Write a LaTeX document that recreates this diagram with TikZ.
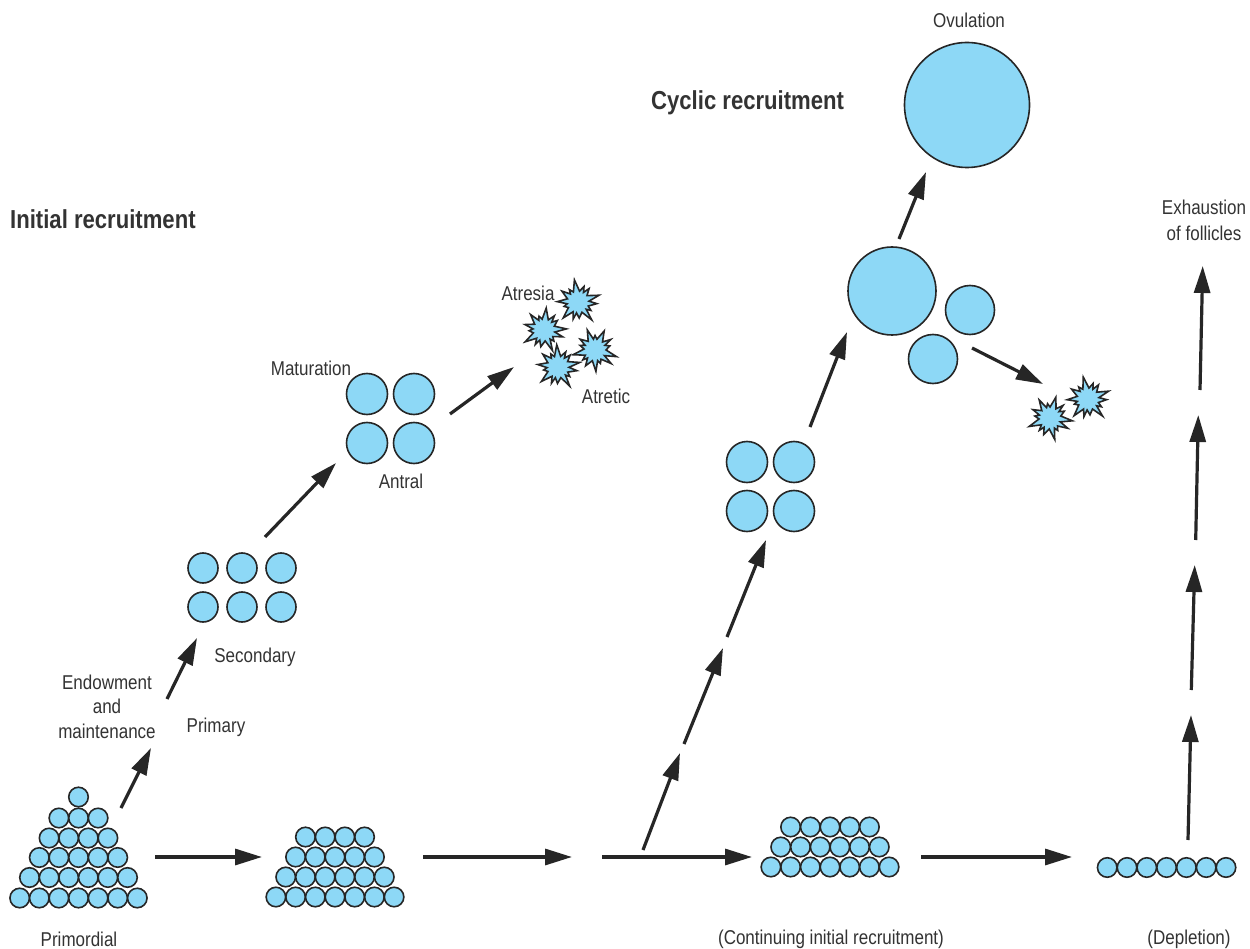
\documentclass[tikz,border=0pt]{standalone}
\usepackage{fontspec}
\setmainfont{Liberation Sans}[FakeStretch=0.85]
\usetikzlibrary{arrows.meta}
\definecolor{folc}{RGB}{141,216,246}
\definecolor{ink}{RGB}{38,38,38}
\definecolor{txt}{RGB}{51,51,51}
\tikzset{
  follicle/.style={circle, draw=ink, fill=folc, line width=1.6pt, inner sep=0pt, minimum size=#1},
  follicle/.default=19.5pt,
  arr/.style={draw=ink, line width=3.2pt, -{Triangle[length=27pt,width=16pt]}},
  lbl/.style={text=txt, font=\fontsize{20}{24}\selectfont, inner sep=0pt},
  head/.style={text=txt, font=\fontsize{26}{30}\selectfont\bfseries, inner sep=0pt},
  burst/.style={draw=ink, fill=folc, line width=1.6pt, line join=miter},
}
\newcommand\folrow[5]{%
  \foreach \i in {1,...,#3}{\node[follicle] (#4\i) at ({#1+(\i-(#3+1)/2)*#5},#2) {};}}
\newcommand\burstat[4]{%
  \coordinate (#1) at (#2,#3);
  \draw[burst, shift={(#1)}] plot[samples at={0,...,27}, variable=\k]
    ({(11+(1-mod(\k,2))*(7.5+4*sin(\k*113+#4)))*cos(\k*360/28+#4+4*sin(\k*71))},
     {(11+(1-mod(\k,2))*(7.5+4*sin(\k*113+#4)))*sin(\k*360/28+#4+4*sin(\k*71))}) -- cycle;}
\begin{document}
\begin{tikzpicture}[x=1pt,y=-1pt]
\useasboundingbox (0,0) rectangle (1250,949);
\fill[white] (0,0) rectangle (1250,949);

% ---------- primordial pyramid
\folrow{78.5}{898}{7}{pa}{19.6}
\folrow{78.5}{877.5}{6}{pb}{19.6}
\folrow{78.5}{857.5}{5}{pc}{19.6}
\folrow{78.5}{838}{4}{pd}{19.6}
\folrow{78.5}{818}{3}{pe}{19.6}
\folrow{78.5}{797}{1}{pf}{19.6}

% ---------- second pile
\folrow{335}{897}{7}{qa}{19.7}
\folrow{335}{877}{6}{qb}{19.7}
\folrow{335}{857}{5}{qc}{19.7}
\folrow{335}{837}{4}{qd}{19.7}

% ---------- third pile
\folrow{830}{867}{7}{ra}{19.7}
\folrow{830}{847}{6}{rb}{19.7}
\folrow{830}{827}{5}{rc}{19.7}

% ---------- depletion row
\folrow{1166.6}{867.5}{7}{sa}{19.8}

% ---------- secondary
\foreach \x [count=\j] in {203,242,281}{
  \node[follicle=30pt] (sec1\j) at (\x,568) {};
  \node[follicle=30pt] (sec2\j) at (\x,607) {};}

% ---------- antral
\node[follicle=41pt] (an1) at (367,394) {};
\node[follicle=41pt] (an2) at (414,394) {};
\node[follicle=41pt] (an3) at (367,443) {};
\node[follicle=41pt] (an4) at (414,443) {};

% ---------- cyclic four
\node[follicle=41pt] (cy1) at (747,462) {};
\node[follicle=41pt] (cy2) at (794,462) {};
\node[follicle=41pt] (cy3) at (747,511) {};
\node[follicle=41pt] (cy4) at (794,511) {};

% ---------- dominant & others
\node[follicle=88pt] (dom) at (892,291) {};
\node[follicle=49pt] (sm1) at (970,310) {};
\node[follicle=49pt] (sm2) at (933,359) {};
\node[follicle=125pt] (ovu) at (967,105) {};

% ---------- atretic bursts
\burstat{b1}{578}{302}{5}
\burstat{b2}{544}{330}{20}
\burstat{b3}{595}{350}{40}
\burstat{b4}{558}{367}{11}
\burstat{b5}{1050}{418}{30}
\burstat{b6}{1088}{399}{2}

% ---------- arrow coordinates
\coordinate (e1s) at (121,808);   \coordinate (e1e) at (151,748);
\coordinate (e2s) at (167,699);   \coordinate (e2e) at (197,638);
\coordinate (e3s) at (265,537);   \coordinate (e3e) at (336,463);
\coordinate (e4s) at (450,414);   \coordinate (e4e) at (514,367);
\coordinate (h1s) at (155,857);   \coordinate (h1e) at (262,857);
\coordinate (h2s) at (423,857);   \coordinate (h2e) at (572,857);
\coordinate (h3s) at (602,857);   \coordinate (h3e) at (752,857);
\coordinate (h4s) at (921,857);   \coordinate (h4e) at (1072,857);
\coordinate (c1s) at (643,850);   \coordinate (c1e) at (680,753);
\coordinate (c2s) at (684,744);   \coordinate (c2e) at (723,648);
\coordinate (c3s) at (727,637);   \coordinate (c3e) at (766,540);
\coordinate (c4s) at (810,427);   \coordinate (c4e) at (847,332);
\coordinate (c5s) at (899,239);   \coordinate (c5e) at (926,172);
\coordinate (c6s) at (972,348);   \coordinate (c6e) at (1043,384);
\coordinate (v1s) at (1188,840);  \coordinate (v1e) at (1191,715);
\coordinate (v2s) at (1191.3,690);\coordinate (v2e) at (1194.7,565);
\coordinate (v3s) at (1195.7,540);\coordinate (v3e) at (1198.3,415);
\coordinate (v4s) at (1200,390);  \coordinate (v4e) at (1202.7,266);

\foreach \a in {e1,e2,e3,e4,h1,h2,h3,h4,c1,c2,c3,c4,c5,c6,v1,v2,v3,v4}
  \draw[arr] (\a s) -- (\a e);

% ---------- labels
\node[head, anchor=west] (tinit) at (10,219) {Initial recruitment};
\node[head, anchor=west] (tcyc) at (651,103) {Cyclic recruitment};
\node[lbl] (tovu) at (969,20) {Ovulation};
\node[lbl] (tex1) at (1204,207) {Exhaustion};
\node[lbl] (tex2) at (1204,233) {of follicles};
\node[lbl] (tatr) at (528,293) {Atresia};
\node[lbl] (tatc) at (606,396) {Atretic};
\node[lbl] (tmat) at (311,368) {Maturation};
\node[lbl] (tant) at (401,481) {Antral};
\node[lbl] (tsec) at (255,657) {Secondary};
\node[lbl] (tpri) at (216,727) {Primary};
\node[lbl] (ten1) at (107,682) {Endowment};
\node[lbl] (ten2) at (107,706) {and};
\node[lbl] (ten3) at (107,731) {maintenance};
\node[lbl] (tprim) at (79,939) {Primordial};
\node[lbl] (tcont) at (831,939) {(Continuing initial recruitment)};
\node[lbl] (tdep) at (1189,939) {(Depletion)};
\end{tikzpicture}
\end{document}
